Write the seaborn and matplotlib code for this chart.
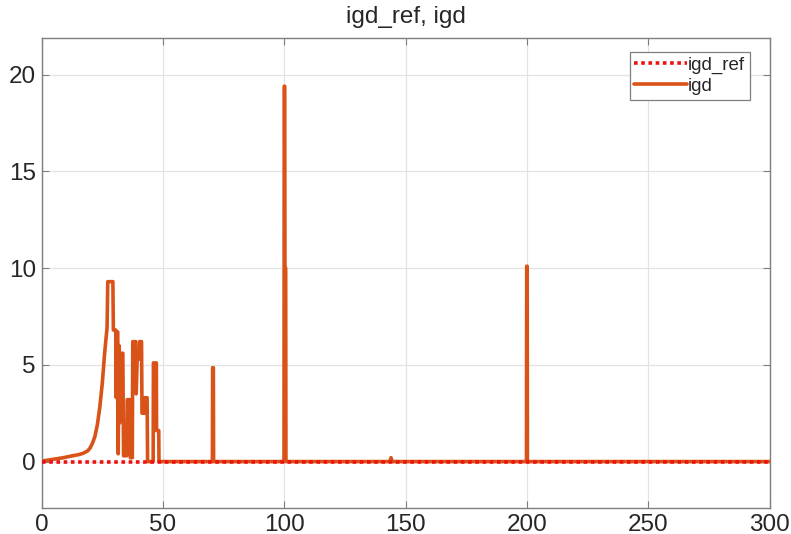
import matplotlib
matplotlib.use("Agg")
import matplotlib.pyplot as plt
import seaborn as sns
import pandas as pd

# ---- data ----
igd_x = [0, 3, 6, 9, 12, 15, 17, 19, 20, 21, 22, 23, 24, 25, 26, 26.6, 27.0,
         27.3, 29.4, 29.6, 30.6, 30.8, 31.0, 31.4, 31.6, 31.9, 32.2, 32.9, 33.5, 33.8,
         35.1, 35.3, 36.4, 36.6, 37.4, 37.6, 38.8, 39.0, 39.4, 40.2, 40.4, 41.2, 41.4,
         42.4, 42.6, 43.5, 43.7, 46.0, 46.1, 47.3, 47.4, 48.3, 48.4,
         70.4, 70.5, 70.8, 70.9,
         99.9, 100.0, 100.2, 100.3, 100.6, 100.7,
         143.5, 144.0, 144.5,
         199.8, 199.9, 200.1, 200.2,
         300]
igd_y = [0.03, 0.08, 0.14, 0.2, 0.28, 0.35, 0.42, 0.55, 0.7, 0.95, 1.3, 1.9, 2.8, 4.0, 5.6, 6.4, 6.9,
         9.3, 9.3, 6.8, 6.8, 3.3, 6.7, 6.7, 0.4, 6.0, 2.0, 5.6, 5.6, 0.3,
         0.3, 3.2, 3.2, 0.2, 0.2, 6.2, 6.2, 3.5, 5.3, 5.3, 6.2, 6.2, 2.5,
         2.5, 3.3, 3.3, 0.0, 0.0, 5.1, 5.1, 1.6, 1.6, 0.0,
         0.0, 4.85, 4.85, 0.0,
         0.0, 19.4, 19.4, 10.0, 10.0, 0.0,
         0.0, 0.2, 0.0,
         0.0, 10.1, 10.1, 0.0,
         0.0]
ref_x = [0, 300]
ref_y = [0.0, 0.0]

x_ticks = [0, 50, 100, 150, 200, 250, 300]
y_ticks = [0, 5, 10, 15, 20]
title = "igd_ref, igd"

igd_df = pd.DataFrame({"x": igd_x, "y": igd_y})
ref_df = pd.DataFrame({"x": ref_x, "y": ref_y})

sns.set_style("whitegrid")
plt.rcParams["font.family"] = ["Liberation Sans", "DejaVu Sans"]

fig = plt.figure(figsize=(7.91, 5.34), dpi=100)
ax = fig.add_axes([0.0525, 0.0487, 0.9205, 0.8803])

sns.lineplot(data=igd_df, x="x", y="y", ax=ax, color="#D95319",
             linewidth=2.6, zorder=2, label="igd", sort=False, estimator=None)
sns.lineplot(data=ref_df, x="x", y="y", ax=ax, color="#EE1111",
             linewidth=2.6, linestyle=(0, (1, 1.0)), zorder=3, label="igd_ref",
             estimator=None)

ax.set_xlim(0, 300)
ax.set_ylim(-2.4, 21.9)
ax.set_xticks(x_ticks)
ax.set_yticks(y_ticks)
ax.set_xlabel("")
ax.set_ylabel("")
ax.set_title(title, fontsize=17.5, pad=11)

ax.grid(True, color="#E3E3E3", linewidth=0.9)
for s in ax.spines.values():
    s.set_visible(True)
    s.set_color("#7F7F7F")
    s.set_linewidth(1.0)
ax.tick_params(axis="both", direction="in", length=5, width=0.8, color="#7F7F7F",
               labelsize=17.5, top=True, right=True, bottom=True, left=True, pad=4)

handles, labels = ax.get_legend_handles_labels()
order = [labels.index("igd_ref"), labels.index("igd")]
leg = ax.legend([handles[i] for i in order], [labels[i] for i in order],
                loc="upper right", bbox_to_anchor=(0.9725, 0.970),
                fontsize=13.5, handlelength=2.8, handletextpad=0.05,
                labelspacing=0.2, borderpad=0.25, borderaxespad=0.0,
                fancybox=False, framealpha=1.0, edgecolor="#7F7F7F")
leg.get_frame().set_linewidth(0.9)

fig.savefig("out.png", dpi=100)
